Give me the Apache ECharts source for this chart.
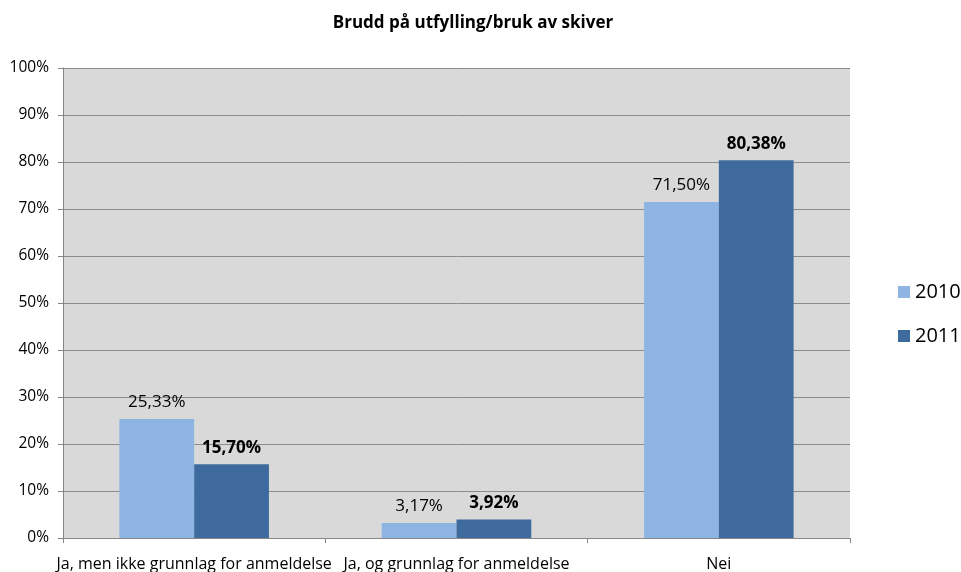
<!DOCTYPE html>
<html><head><meta charset="utf-8">
<script src="https://cdn.jsdelivr.net/npm/echarts@6/dist/echarts.min.js"></script>
<style>html,body{margin:0;padding:0;background:#fff}#c{width:961px;height:572px}</style>
</head><body><div id="c"></div>
<script>
const categories = ["Ja, men ikke grunnlag for anmeldelse", "Ja, og grunnlag for anmeldelse", "Nei"];
const seriesNames = ["2010", "2011"];
const values2010 = [25.33, 3.17, 71.50];
const values2011 = [15.70, 3.92, 80.38];
const yTicks = [0, 10, 20, 30, 40, 50, 60, 70, 80, 90, 100];

const font = "'Open Sans', 'Noto Sans', sans-serif";
const fmt = v => v.toFixed(2).replace('.', ',') + '%';
const chart = echarts.init(document.getElementById('c'), null, {renderer: 'canvas'});
chart.setOption({
  animation: false,
  title: {text: 'Brudd på utfylling/bruk av skiver', left: 468, top: 10, textAlign: 'center',
    textStyle: {fontFamily: font, fontSize: 17, fontWeight: 'bold', color: '#000'}},
  legend: {orient: 'vertical', left: 893, top: 277, itemWidth: 12, itemHeight: 12, itemGap: 24,
    icon: 'rect', data: seriesNames,
    textStyle: {fontFamily: font, fontSize: 20, color: '#000'}},
  grid: {left: 63, right: 111, top: 68, bottom: 34, backgroundColor: '#d9d9d9', show: true, borderWidth: 0},
  xAxis: {type: 'category', data: categories,
    axisLine: {lineStyle: {color: '#868686'}},
    axisTick: {show: true, length: 5, lineStyle: {color: '#868686'}},
    axisLabel: {fontFamily: font, fontSize: 16, color: '#000', margin: 18, interval: 0}},
  yAxis: {type: 'value', min: yTicks[0], max: yTicks[yTicks.length-1], interval: 10,
    axisLine: {show: true, lineStyle: {color: '#868686'}},
    axisTick: {show: true, length: 5, lineStyle: {color: '#868686'}},
    splitLine: {lineStyle: {color: '#8c8c8c'}},
    axisLabel: {fontFamily: font, fontSize: 15.5, color: '#000', margin: 14, formatter: v => v + '%'}},
  series: [
    {name: seriesNames[0], type: 'bar', data: values2010, barGap: '0%', barCategoryGap: '43%',
      itemStyle: {color: '#8eb4e3'},
      label: {show: true, position: 'top', distance: 8, formatter: p => fmt(p.value),
        fontFamily: font, fontSize: 17, color: '#000'}},
    {name: seriesNames[1], type: 'bar', data: values2011,
      itemStyle: {color: '#3e6a9e'},
      label: {show: true, position: 'top', distance: 8, formatter: p => fmt(p.value),
        fontFamily: font, fontSize: 17, fontWeight: 'bold', color: '#000'}}
  ]
});
</script></body></html>
